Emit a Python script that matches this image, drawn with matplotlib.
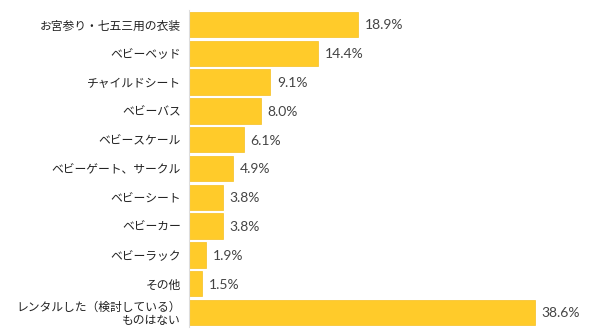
import numpy as np
import matplotlib.pyplot as plt

plt.rcParams['font.family'] = ['Noto Sans CJK JP', 'DejaVu Sans']

categories = ['お宮参り・七五三用の衣装', 'ベビーベッド', 'チャイルドシート', 'ベビーバス',
              'ベビースケール', 'ベビーゲート、サークル', 'ベビーシート', 'ベビーカー',
              'ベビーラック', 'その他', 'レンタルした（検討している）\nものはない']
values = [18.9, 14.4, 9.1, 8.0, 6.1, 4.9, 3.8, 3.8, 1.9, 1.5, 38.6]

fig = plt.figure(figsize=(6.0, 3.34), dpi=100)
ax = fig.add_axes([0.315, 0.021, 0.685, 0.949])

y = np.arange(len(categories))
bars = ax.barh(y, values, height=0.88, color='#FFCB2A', edgecolor='#F5C020', linewidth=0.5)

for rect, v in zip(bars, values):
    ax.text(rect.get_width() + 0.75, rect.get_y() + rect.get_height() / 2.0 + 0.03,
            '%.1f%%' % v, ha='left', va='center', fontsize=10, color='#444444',
            family=['Lato', 'DejaVu Sans'])

ax.set_yticks(y)
ax.set_yticklabels(categories, fontsize=8.5, color='#222222', linespacing=1.0)
ax.tick_params(axis='y', length=0, pad=6)
ax.set_xticks([])
ax.set_xlim(0, 45.9)
ax.set_ylim(len(categories) - 0.5, -0.5)

for s in ['top', 'right', 'bottom']:
    ax.spines[s].set_visible(False)
ax.spines['left'].set_color('#DDDDDD')

plt.savefig('out.png', dpi=100)
